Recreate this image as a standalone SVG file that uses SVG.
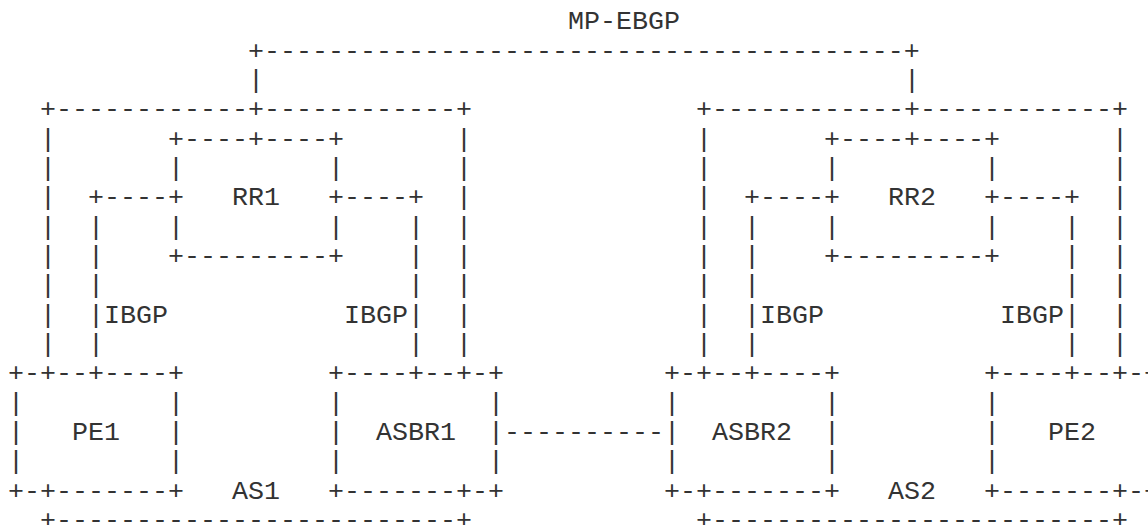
<svg xmlns="http://www.w3.org/2000/svg" width="1148" height="525" viewBox="0 0 1148 525">
<style>
text { font-family: 'Liberation Mono', 'DejaVu Sans Mono', monospace; font-size: 26.667px; fill: #333; }
</style>
<rect width="1148" height="525" fill="#fff"/>
<g id="as1">
<text x="40" y="117.33">+------------+------------+</text>
<text x="40 40 40 40 40 40 40 40" y="146.67 176 205.33 234.67 264 293.33 322.67 352">||||||||</text>
<text x="456 456 456 456 456 456 456 456" y="146.67 176 205.33 234.67 264 293.33 322.67 352">||||||||</text>
<text x="40" y="528">+-------------------------+</text>
<text x="232" y="498.67">AS1</text>
</g>
<g id="as2">
<text x="696" y="117.33">+------------+------------+</text>
<text x="696 696 696 696 696 696 696 696" y="146.67 176 205.33 234.67 264 293.33 322.67 352">||||||||</text>
<text x="1112 1112 1112 1112 1112 1112 1112 1112" y="146.67 176 205.33 234.67 264 293.33 322.67 352">||||||||</text>
<text x="696" y="528">+-------------------------+</text>
<text x="888" y="498.67">AS2</text>
</g>
<g id="rr1">
<text x="168" y="146.67">+----+----+</text>
<text x="168 168 168" y="176 205.33 234.67">|+|</text>
<text x="328 328 328" y="176 205.33 234.67">|+|</text>
<text x="168" y="264">+---------+</text>
<text x="232" y="205.33">RR1</text>
</g>
<g id="rr2">
<text x="824" y="146.67">+----+----+</text>
<text x="824 824 824" y="176 205.33 234.67">|+|</text>
<text x="984 984 984" y="176 205.33 234.67">|+|</text>
<text x="824" y="264">+---------+</text>
<text x="888" y="205.33">RR2</text>
</g>
<g id="pe1">
<text x="8" y="381.33">+-+--+----+</text>
<text x="8 8 8" y="410.67 440 469.33">|||</text>
<text x="168 168 168" y="410.67 440 469.33">|||</text>
<text x="8" y="498.67">+-+-------+</text>
<text x="72" y="440">PE1</text>
</g>
<g id="asbr1">
<text x="328" y="381.33">+----+--+-+</text>
<text x="328 328 328" y="410.67 440 469.33">|||</text>
<text x="488 488 488" y="410.67 440 469.33">|||</text>
<text x="328" y="498.67">+-------+-+</text>
<text x="376" y="440">ASBR1</text>
</g>
<g id="asbr2">
<text x="664" y="381.33">+-+--+----+</text>
<text x="664 664 664" y="410.67 440 469.33">|||</text>
<text x="824 824 824" y="410.67 440 469.33">|||</text>
<text x="664" y="498.67">+-+-------+</text>
<text x="712" y="440">ASBR2</text>
</g>
<g id="pe2">
<text x="984" y="381.33">+----+--+-+</text>
<text x="984 984 984" y="410.67 440 469.33">|||</text>
<text x="1144 1144 1144" y="410.67 440 469.33">|||</text>
<text x="984" y="498.67">+-------+-+</text>
<text x="1048" y="440">PE2</text>
</g>
<g id="connectors">
<text x="568" y="29.33">MP-EBGP</text>
<text x="248" y="58.67">+----------------------------------------+</text>
<text x="248" y="88">|</text>
<text x="904" y="88">|</text>
<text x="88" y="205.33">+----</text>
<text x="88 88 88 88 88" y="234.67 264 293.33 322.67 352">|||||</text>
<text x="104" y="322.67">IBGP</text>
<text x="344" y="205.33">----+</text>
<text x="408 408 408 408 408" y="234.67 264 293.33 322.67 352">|||||</text>
<text x="344" y="322.67">IBGP</text>
<text x="744" y="205.33">+----</text>
<text x="744 744 744 744 744" y="234.67 264 293.33 322.67 352">|||||</text>
<text x="760" y="322.67">IBGP</text>
<text x="1000" y="205.33">----+</text>
<text x="1064 1064 1064 1064 1064" y="234.67 264 293.33 322.67 352">|||||</text>
<text x="1000" y="322.67">IBGP</text>
<text x="504" y="440">----------</text>
</g>
</svg>
